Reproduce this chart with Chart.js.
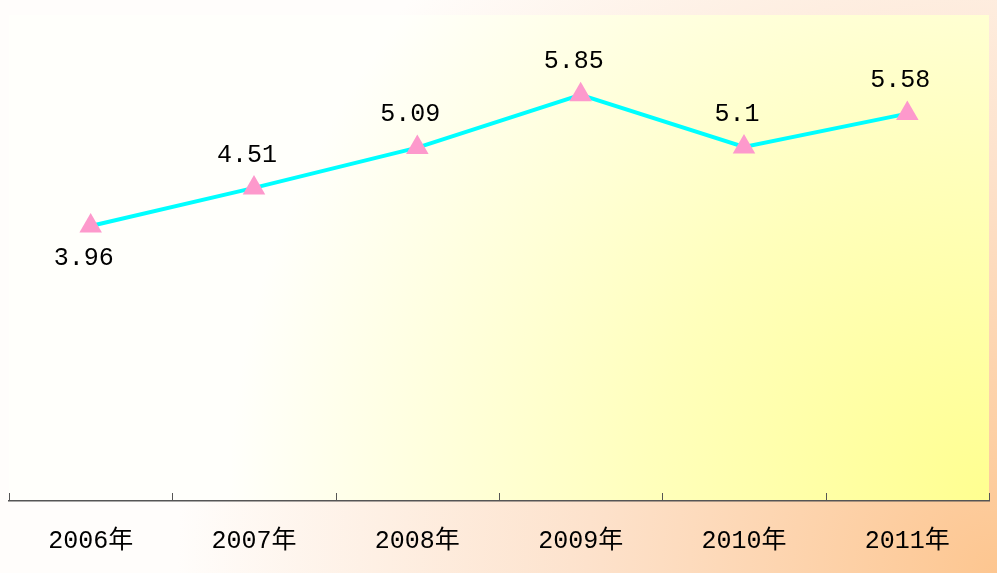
<!DOCTYPE html>
<html>
<head>
  <meta charset="utf-8">
  <title>年度数据</title>
  <script src="https://cdn.jsdelivr.net/npm/chart.js"></script>
  <style>
    html, body {
      margin: 0;
      padding: 0;
      background: #fff;
    }
    #wrap {
      width: 997px;
      height: 573px;
    }
    canvas {
      display: block;
    }
  </style>
</head>
<body>
  <div id="wrap"><canvas id="myChart" width="997" height="573"></canvas></div>

  <script>
    const years = ['2006年', '2007年', '2008年', '2009年', '2010年', '2011年'];
    const values = [3.96, 4.51, 5.09, 5.85, 5.1, 5.58];
    const valueLabels = ['3.96', '4.51', '5.09', '5.85', '5.1', '5.58'];

    const labelFont = '25px "Liberation Mono", "Noto Sans CJK SC", monospace';

    // backgrounds: outer peach gradient + yellow plot area
    const bgPlugin = {
      id: 'bg',
      beforeDraw(chart) {
        const c = chart.ctx;
        const w = chart.width, h = chart.height;
        c.save();
        let g = c.createRadialGradient(w, h, 0, w, h, 820);
        g.addColorStop(0, '#fdc690');
        g.addColorStop(0.5, '#fde2cc');
        g.addColorStop(1, '#fffdfb');
        c.fillStyle = g;
        c.fillRect(0, 0, w, h);

        const a = chart.chartArea;
        g = c.createRadialGradient(a.right, a.bottom, 0, a.right, a.bottom, 760);
        g.addColorStop(0, '#ffff90');
        g.addColorStop(0.45, '#ffffbc');
        g.addColorStop(1, '#fffffb');
        c.fillStyle = g;
        c.fillRect(a.left, a.top, a.right - a.left, a.bottom - a.top);
        c.restore();
      }
    };

    // tick marks between categories, pointing up into the plot
    const tickPlugin = {
      id: 'ticks',
      afterDraw(chart) {
        const c = chart.ctx;
        const x = chart.scales.x;
        const bottom = chart.chartArea.bottom;
        c.save();
        c.strokeStyle = '#555';
        c.lineWidth = 1;
        for (let i = 0; i <= years.length; i++) {
          const px = Math.round(x.getPixelForValue(i - 0.5)) + 0.5;
          c.beginPath();
          c.moveTo(px, bottom);
          c.lineTo(px, bottom - 8);
          c.stroke();
        }
        c.restore();
      }
    };

    // value labels above points (first one below)
    const valuePlugin = {
      id: 'values',
      afterDatasetsDraw(chart) {
        const c = chart.ctx;
        const meta = chart.getDatasetMeta(0);
        c.save();
        c.font = labelFont;
        c.fillStyle = '#000';
        c.textAlign = 'center';
        c.textBaseline = 'middle';
        meta.data.forEach((pt, i) => {
          const dy = i === 0 ? 32 : -33;
          c.fillText(valueLabels[i], pt.x - 7, pt.y + dy);
        });
        c.restore();
      }
    };

    const ctx = document.getElementById('myChart').getContext('2d');
    const chart = new Chart(ctx, {
      type: 'line',
      data: {
        labels: years,
        datasets: [{
          data: values,
          borderColor: '#00ffff',
          borderWidth: 4,
          tension: 0,
          pointStyle: 'triangle',
          pointRadius: 13,
          pointHoverRadius: 13,
          pointBackgroundColor: '#fd99cc',
          pointBorderWidth: 0
        }]
      },
      options: {
        responsive: false,
        animation: false,
        layout: {
          autoPadding: false,
          padding: { left: 9, right: 8, top: 15, bottom: -8 }
        },
        plugins: {
          legend: { display: false },
          tooltip: { enabled: false }
        },
        scales: {
          x: {
            offset: true,
            grid: { display: false, drawTicks: false },
            border: { display: true, color: '#555', width: 1.5 },
            ticks: {
              color: '#000',
              padding: 25,
              font: { family: '"Liberation Mono", "Noto Sans CJK SC", monospace', size: 25 }
            }
          },
          y: {
            display: false,
            min: 0,
            max: 7
          }
        }
      },
      plugins: [bgPlugin, tickPlugin, valuePlugin]
    });
  </script>
</body>
</html>
